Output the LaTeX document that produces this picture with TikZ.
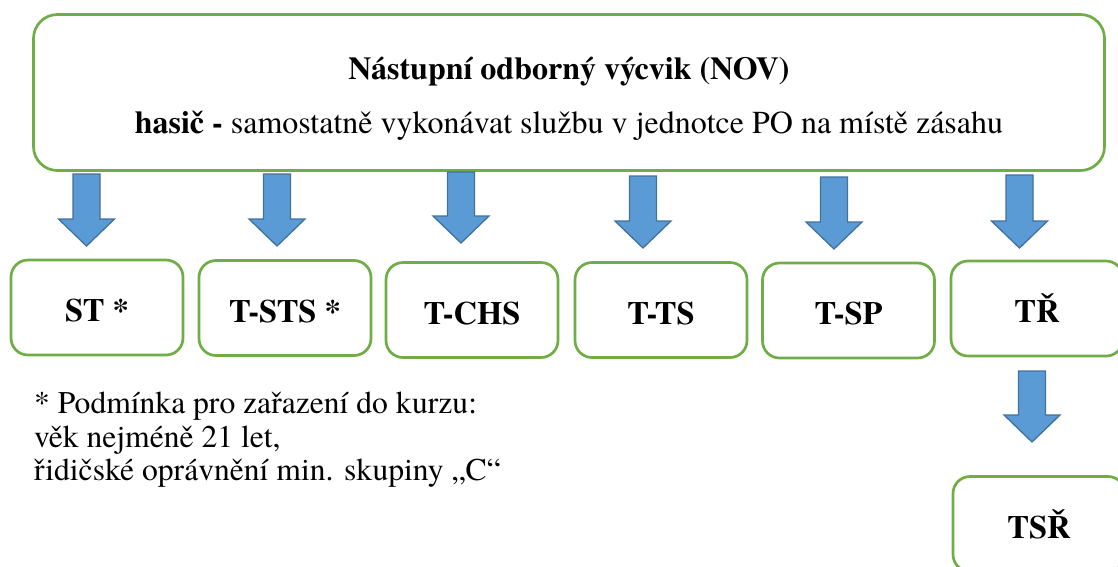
\documentclass[tikz,border=0pt]{standalone}
\usepackage{fontspec}
\setmainfont{texgyretermes}[Extension=.otf, UprightFont=*-regular, BoldFont=*-bold, ItalicFont=*-italic, BoldItalicFont=*-bolditalic]
\definecolor{boxgreen}{HTML}{70AD47}
\definecolor{arrfill}{HTML}{5B9BD5}
\definecolor{arrdraw}{HTML}{41719C}
\tikzset{
  topbox/.style={draw=boxgreen, line width=2.7pt, rounded corners=24pt, fill=white,
    minimum width=1071pt, minimum height=156pt, inner sep=0pt},
  coursebox/.style={draw=boxgreen, line width=2.7pt, rounded corners=17pt, fill=white,
    minimum width=172pt, minimum height=95pt, inner sep=0pt,
    font=\fontsize{32.5}{36}\selectfont\bfseries, text height=28pt, text depth=0pt},
  blockarrow/.style={fill=arrfill, draw=arrdraw, line width=1.3pt, line join=miter},
  toptext/.style={font=\fontsize{32}{36}\selectfont, anchor=base, inner sep=0pt},
  notetext/.style={font=\fontsize{31.6}{33.5}\selectfont, align=left, anchor=north west, inner sep=0pt}
}
% \barrow{center x}{top y}{neck y}{tip y}
\newcommand{\barrow}[4]{%
  \draw[blockarrow] (#1-13.5,#2) -- (#1+13.5,#2) -- (#1+13.5,#3) -- (#1+28,#3)
    -- (#1,#4) -- (#1-28,#3) -- (#1-13.5,#3) -- cycle;}
\begin{document}
\begin{tikzpicture}[x=1pt,y=-1pt]
\useasboundingbox (0,0) rectangle (1118,566);
\clip (0,0) rectangle (1118,566);
\fill[white] (0,0) rectangle (1118,566);

\node[topbox] (nov) at (569,92.5) {};
\node[toptext] (novtitle) at (569,79) {\bfseries Nástupní odborný výcvik (NOV)};
\node[toptext] (novtext) at (569,133) {\textbf{hasič -} samostatně vykonávat službu v jednotce PO na místě zásahu};

\node[coursebox] (st)   at (97,307.5)   {ST *};
\node[coursebox] (tsts) at (285,308)    {T-STS *};
\node[coursebox] (tchs) at (472,310)    {T-CHS};
\node[coursebox] (tts)  at (661,310)    {T-TS};
\node[coursebox] (tsp)  at (848.5,310.5){T-SP};
\node[coursebox] (tr)   at (1037,308.5) {TŘ};
\node[coursebox] (tsr)  at (1039,524)   {TSŘ};

\barrow{86.5}{174}{219}{246}
\barrow{277}{174}{219}{246}
\barrow{461}{172}{216}{243}
\barrow{643}{176}{221}{248}
\barrow{834}{177}{222}{249}
\barrow{1019.5}{175}{221}{248}
\barrow{1032}{371}{415}{442}

\node[notetext] (note) at (34,392) {* Podmínka pro zařazení do kurzu:\\věk nejméně 21 let,\\řidičské oprávnění min. skupiny „C“};
\end{tikzpicture}
\end{document}
